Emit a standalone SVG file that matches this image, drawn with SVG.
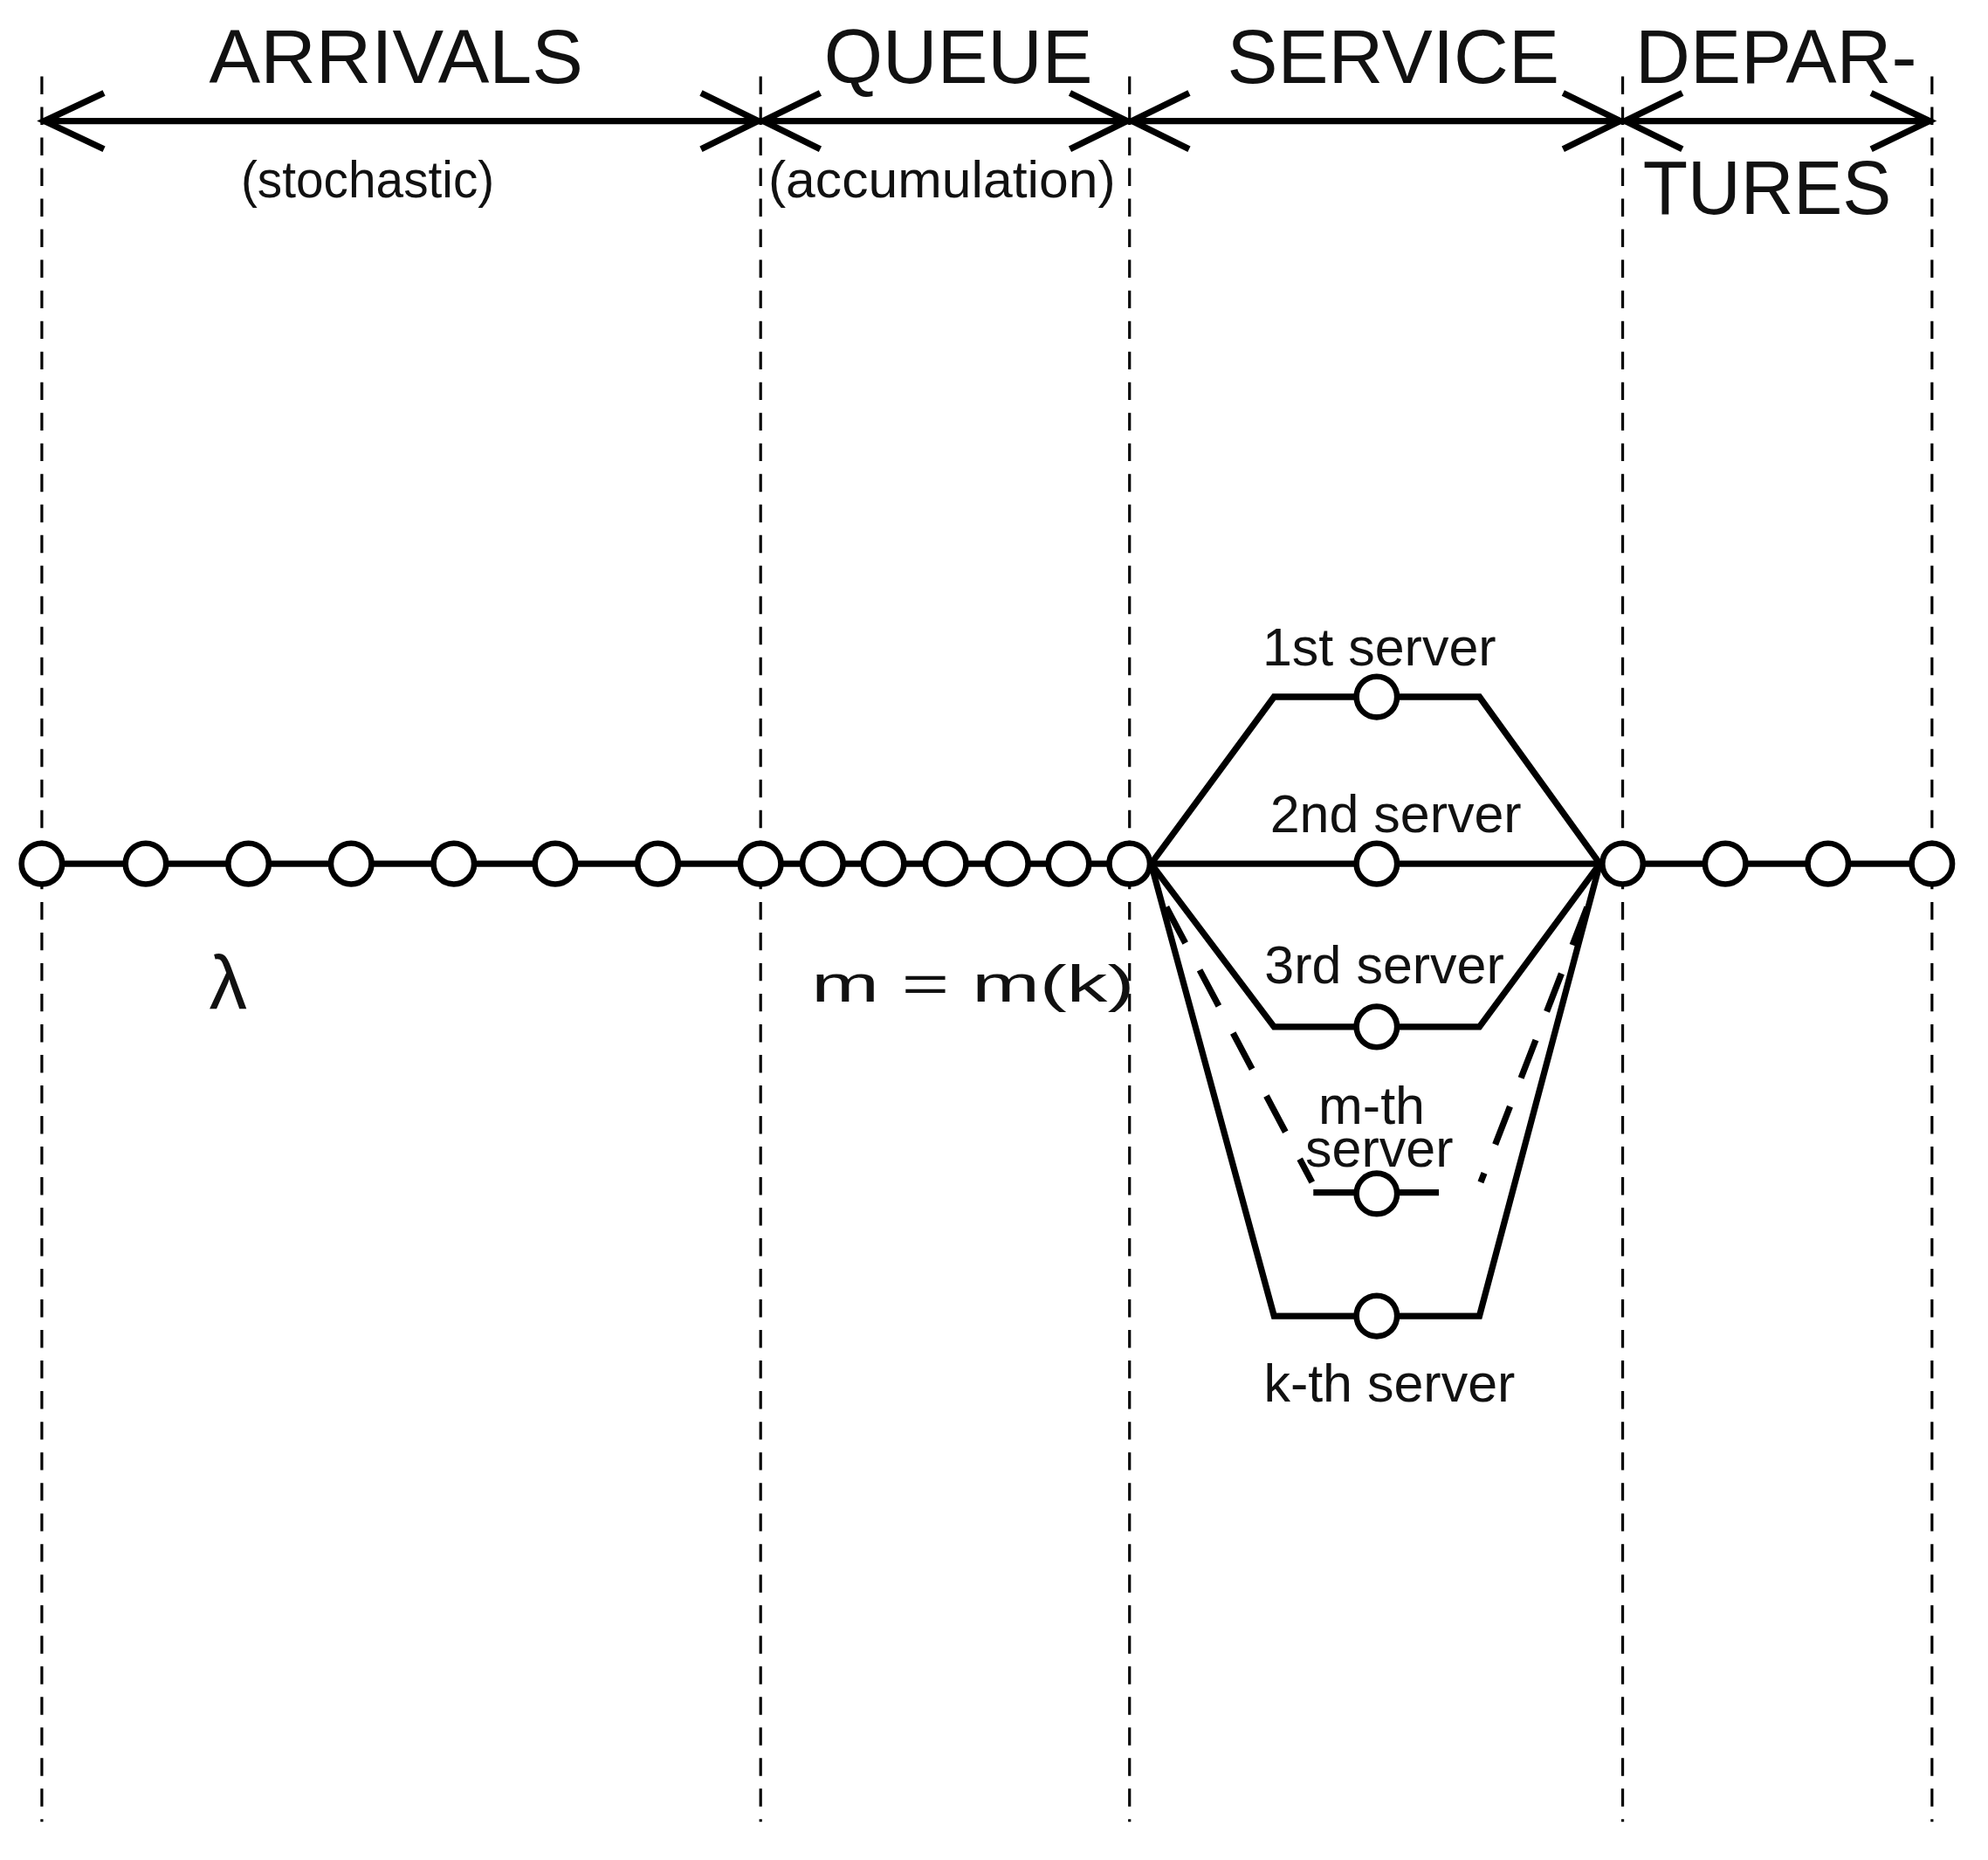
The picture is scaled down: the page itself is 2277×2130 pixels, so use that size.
<svg xmlns="http://www.w3.org/2000/svg" width="2277" height="2130" viewBox="0 0 2277 2130">
<style>
.dash{stroke:#000;stroke-width:2.2;stroke-dasharray:14,10;fill:none}
.ln{stroke:#000;stroke-width:5;fill:none}
.c{fill:#fff;stroke:#000;stroke-width:4.5}
.h{font-family:"Liberation Sans",sans-serif;font-size:60px;fill:#111}
.s{font-family:"Liberation Sans",sans-serif;font-size:42px;fill:#111}
.p{font-family:"Liberation Sans",sans-serif;font-size:40px;fill:#111}
</style>
<rect width="2277" height="2130" fill="#fff"/>
<g transform="scale(1.452,1.4589)">
<g id="grid">
<line class="dash" x1="33" y1="60" x2="33" y2="1430"/>
<line class="dash" x1="600" y1="60" x2="600" y2="1430"/>
<line class="dash" x1="891" y1="60" x2="891" y2="1430"/>
<line class="dash" x1="1280" y1="60" x2="1280" y2="1430"/>
<line class="dash" x1="1524" y1="60" x2="1524" y2="1430"/>
</g>
<g id="connectors">
<line class="ln" x1="33" y1="95" x2="1524" y2="95" stroke-width="3"/>
<path class="ln" stroke-width="2" d="M82,73 L35,95 L82,117 M553,73 L598,95 L553,117 M647,73 L602,95 L647,117 M844,73 L889,95 L844,117 M938,73 L893,95 L938,117 M1233,73 L1278,95 L1233,117 M1327,73 L1282,95 L1327,117 M1476,73 L1522,95 L1476,117"/>
<line class="ln" x1="33" y1="678" x2="908" y2="678"/>
<line class="ln" x1="1262" y1="678" x2="1524" y2="678"/>
<polyline class="ln" points="908,678 1005,547 1167,547 1262,678"/>
<line class="ln" x1="908" y1="678" x2="1262" y2="678"/>
<polyline class="ln" points="908,678 1005,806 1167,806 1262,678"/>
<polyline class="ln" points="908,678 1005,1033 1167,1033 1262,678"/>
<path class="ln" stroke-dasharray="32,24" d="M920,712 L1035,928 M1252,712 L1168,928"/>
<line class="ln" x1="1036" y1="936" x2="1135" y2="936"/>
</g>
<g id="nodes">
<circle class="c" cx="33" cy="678" r="16"/>
<circle class="c" cx="115" cy="678" r="16"/>
<circle class="c" cx="196" cy="678" r="16"/>
<circle class="c" cx="277" cy="678" r="16"/>
<circle class="c" cx="358" cy="678" r="16"/>
<circle class="c" cx="438" cy="678" r="16"/>
<circle class="c" cx="519" cy="678" r="16"/>
<circle class="c" cx="600" cy="678" r="16"/>
<circle class="c" cx="649" cy="678" r="16"/>
<circle class="c" cx="697" cy="678" r="16"/>
<circle class="c" cx="746" cy="678" r="16"/>
<circle class="c" cx="795" cy="678" r="16"/>
<circle class="c" cx="843" cy="678" r="16"/>
<circle class="c" cx="891" cy="678" r="16"/>
<circle class="c" cx="1280" cy="678" r="16"/>
<circle class="c" cx="1361" cy="678" r="16"/>
<circle class="c" cx="1442" cy="678" r="16"/>
<circle class="c" cx="1524" cy="678" r="16"/>
<circle class="c" cx="1086" cy="547" r="16"/>
<circle class="c" cx="1086" cy="678" r="16"/>
<circle class="c" cx="1086" cy="806" r="16"/>
<circle class="c" cx="1086" cy="937" r="16"/>
<circle class="c" cx="1086" cy="1033" r="16"/>
</g>
<g id="labels">
<text class="h" x="165" y="65" textLength="295" lengthAdjust="spacingAndGlyphs">ARRIVALS</text>
<text class="h" x="650" y="65" textLength="212" lengthAdjust="spacingAndGlyphs">QUEUE</text>
<text class="h" x="968" y="65" textLength="262" lengthAdjust="spacingAndGlyphs">SERVICE</text>
<text class="h" x="1290" y="65" textLength="222" lengthAdjust="spacingAndGlyphs">DEPAR-</text>
<text class="h" x="1296" y="168" textLength="196" lengthAdjust="spacingAndGlyphs">TURES</text>
<text class="p" x="190" y="155" textLength="200" lengthAdjust="spacingAndGlyphs">(stochastic)</text>
<text class="p" x="606" y="155" textLength="274" lengthAdjust="spacingAndGlyphs">(accumulation)</text>
<text class="s" x="1088" y="522" text-anchor="middle">1st server</text>
<text class="s" x="1101" y="653" text-anchor="middle">2nd server</text>
<text class="s" x="1092" y="772" text-anchor="middle">3rd server</text>
<text class="s" x="1082" y="882" text-anchor="middle">m-th</text>
<text class="s" x="1088" y="916" text-anchor="middle">server</text>
<text class="s" x="1096" y="1100" text-anchor="middle">k-th server</text>
<text class="h" x="165" y="792" font-family="Liberation Serif,serif" font-size="46">λ</text>
<text class="p" x="640" y="786" textLength="255" lengthAdjust="spacingAndGlyphs">m = m(k)</text>
</g>
</g>
</svg>
